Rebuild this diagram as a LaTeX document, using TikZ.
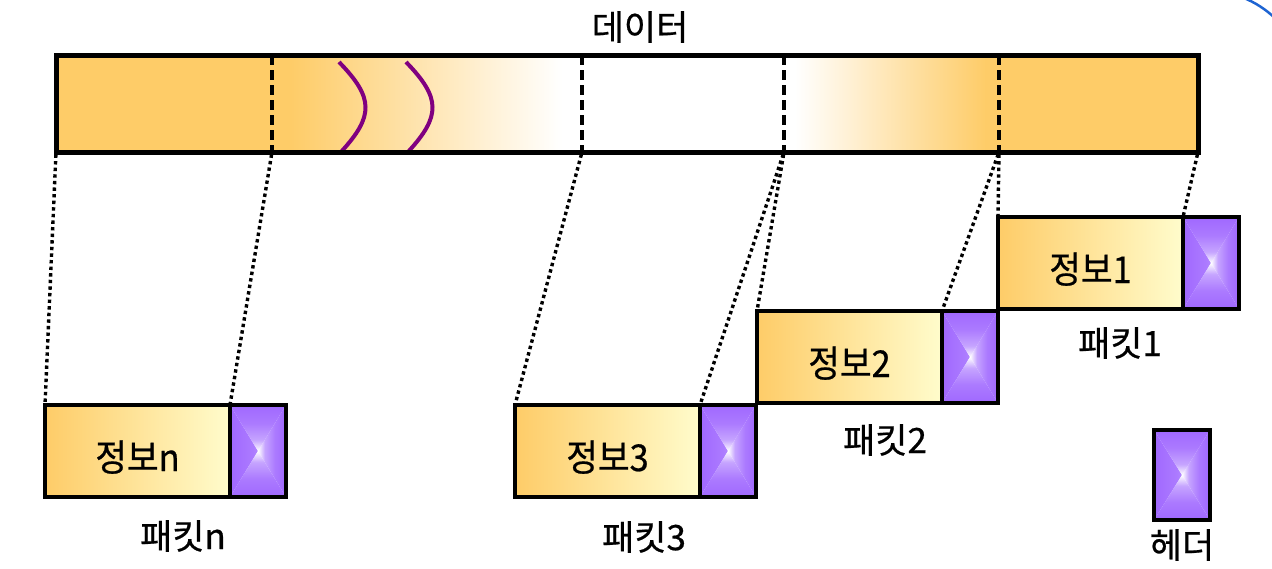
\documentclass[tikz,border=0pt]{standalone}
\usepackage{fontspec}
\newfontfamily\kr[FakeBold=0.6]{Noto Sans CJK KR}
\newfontfamily\krn[FakeStretch=0.93,FakeBold=0.6]{Noto Sans CJK KR}
\definecolor{orC}{RGB}{254,204,104}
\definecolor{ylC}{RGB}{255,252,204}
\definecolor{hpC}{RGB}{160,104,255}
\definecolor{cvC}{RGB}{128,0,128}
\definecolor{blC}{RGB}{30,100,210}
\colorlet{hpA}{hpC!88!white}
\colorlet{hpB}{hpC!60!white}
% box-gradient pieces (edge = purple, centre = white)
\pgfdeclarehorizontalshading{hpLeft}{100bp}{color(0bp)=(hpC); color(25bp)=(hpC);
  color(45bp)=(hpA); color(63bp)=(hpB); color(75bp)=(white); color(100bp)=(white)}
\pgfdeclarehorizontalshading{hpRight}{100bp}{color(0bp)=(white); color(25bp)=(white);
  color(37bp)=(hpB); color(55bp)=(hpA); color(75bp)=(hpC); color(100bp)=(hpC)}
\pgfdeclareverticalshading{hpTop}{100bp}{color(0bp)=(white); color(25bp)=(white);
  color(37bp)=(hpB); color(55bp)=(hpA); color(75bp)=(hpC); color(100bp)=(hpC)}
\pgfdeclareverticalshading{hpBottom}{100bp}{color(0bp)=(hpC); color(25bp)=(hpC);
  color(45bp)=(hpA); color(63bp)=(hpB); color(75bp)=(white); color(100bp)=(white)}
\tikzset{
  info/.style={draw, line width=4pt, left color=orC, right color=ylC,
    minimum width=185pt, minimum height=92pt, anchor=north west,
    inner sep=0pt, outer sep=0pt, text height=40pt, text depth=0pt,
    font=\krn\fontsize{37}{40}\selectfont},
  hdr/.style={draw, line width=4pt, minimum width=56pt, minimum height=92pt,
    anchor=north west, inner sep=0pt, outer sep=0pt,
    path picture={
      \shade[shading=hpLeft, shading angle=0]
        (path picture bounding box.north west) -- (path picture bounding box.south west)
        -- (path picture bounding box.center) -- cycle;
      \shade[shading=hpRight, shading angle=0]
        (path picture bounding box.north east) -- (path picture bounding box.south east)
        -- (path picture bounding box.center) -- cycle;
      \shade[shading=hpTop, shading angle=0]
        (path picture bounding box.north west) -- (path picture bounding box.north east)
        -- (path picture bounding box.center) -- cycle;
      \shade[shading=hpBottom, shading angle=0]
        (path picture bounding box.south west) -- (path picture bounding box.south east)
        -- (path picture bounding box.center) -- cycle;
    }},
  lbl/.style={font=\kr\fontsize{35}{38}\selectfont, inner sep=0pt},
  conn/.style={line width=3.4pt, dash pattern=on 3.4pt off 3.2pt},
  sepline/.style={line width=3.4pt, dash pattern=on 10pt off 5pt},
  wave/.style={cvC, line width=4pt}
}
\begin{document}
\begin{tikzpicture}[x=1pt,y=-1pt]
\useasboundingbox (0,0) rectangle (1272,568);
% title
\node[lbl] (title) at (640,27) {데이터};
% data bar fills
\fill[orC] (56,55) rectangle (292,152);
\shade[left color=orC, right color=white] (291,55) rectangle (562,152);
\shade[left color=white, right color=orC] (795,55) rectangle (986,152);
\fill[orC] (985,55) rectangle (1198,152);
% separators
\draw[sepline] (272,55) -- (272,152);
\draw[sepline] (582,55) -- (582,152);
\draw[sepline] (784,55) -- (784,152);
\draw[sepline] (999,55) -- (999,152);
% wave marks
\draw[wave] (339,62) .. controls (374,98) and (374,116) .. (341,152);
\draw[wave] (406,62) .. controls (441,98) and (441,116) .. (408,152);
% bar border
\node[draw, line width=5pt, minimum width=1142pt, minimum height=97pt,
  anchor=north west, inner sep=0pt, outer sep=0pt] (data) at (56,55) {};
% bar boundary points
\coordinate (b0) at (56,152);
\coordinate (b1) at (272,152);
\coordinate (b2) at (582,152);
\coordinate (b3) at (784,152);
\coordinate (b4) at (999,152);
\coordinate (b5) at (1198,152);
% packet box positions
\coordinate (q1) at (998,217);
\coordinate (q2) at (757,311);
\coordinate (q3) at (515,405);
\coordinate (qn) at (45,405);
% packet 1
\node[info] (info1) at (q1) {정보1};
\node[hdr] (h1) at (info1.north east) {};
\node[lbl] (p1) at (1120,343) {패킷1};
% packet 2
\node[info] (info2) at (q2) {정보2};
\node[hdr] (h2) at (info2.north east) {};
\node[lbl] (p2) at (885,440) {패킷2};
% packet 3
\node[info] (info3) at (q3) {정보3};
\node[hdr] (h3) at (info3.north east) {};
\node[lbl] (p3) at (644,537) {패킷3};
% packet n
\node[info] (infon) at (qn) {정보n};
\node[hdr] (hn) at (infon.north east) {};
\node[lbl] (pn) at (183,536) {패킷n};
% connectors
\begin{scope}[shorten >=2pt, shorten <=2.5pt]
\draw[conn] (b0) -- (infon.north west);
\draw[conn] (b1) -- (infon.north east);
\draw[conn] (b2) -- (info3.north west);
\draw[conn] (b3) -- (info3.north east);
\draw[conn] (b3) -- (info2.north west);
\draw[conn] (b4) -- (info2.north east);
\draw[conn] (b4) -- (info1.north west);
\draw[conn] (b5) -- (info1.north east);
\end{scope}
% legend
\node[hdr, minimum height=90pt] (hl) at (1154,430) {};
\node[lbl] (hlab) at (1182,545) {헤더};
% blue arc at corner
\draw[blC, line width=2.5pt] (1244,-2) .. controls (1256,3) and (1265,9) .. (1275,18);
\end{tikzpicture}
\end{document}
